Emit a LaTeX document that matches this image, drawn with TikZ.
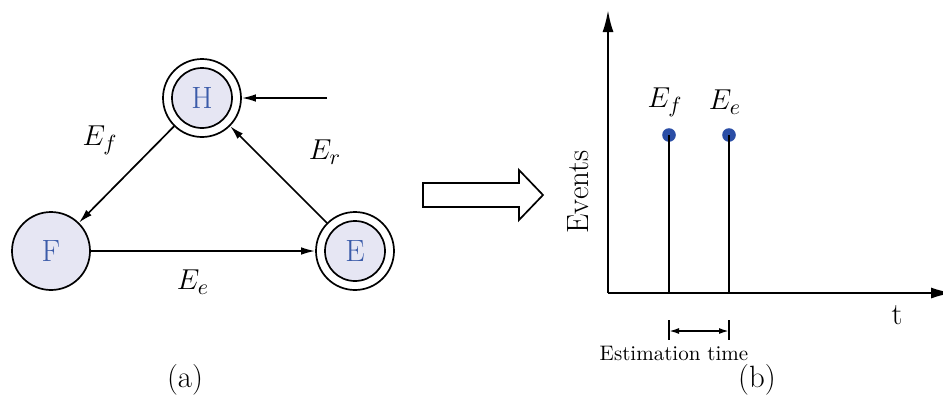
\documentclass[tikz,border=0pt]{standalone}
\usepackage{xcolor}
\usetikzlibrary{arrows.meta}
\definecolor{sfill}{HTML}{E6E6F3}
\definecolor{sblue}{HTML}{3B5BA9}
\definecolor{dblue}{HTML}{2B4EA6}

\begin{document}
\begin{tikzpicture}[x=0.5pt, y=-0.5pt, font=\fontsize{15.4}{18}\selectfont,
  state/.style={circle, draw, line width=0.85pt, minimum size=39pt, inner sep=0pt, fill=sfill, text=sblue},
  accstate/.style={state, fill=white, path picture={\draw[line width=0.85pt, fill=sfill] (path picture bounding box.center) circle[radius=15pt];}},
  edge/.style={-{Latex[length=7pt,width=3.8pt]}, line width=0.85pt},
  axis/.style={-{Latex[length=11pt,width=5.5pt]}, line width=1.1pt},
  dot/.style={circle, fill=dblue, minimum size=6.8pt, inner sep=0pt}]
\useasboundingbox (0,0) rectangle (943,397);
% (a) automaton
\node[accstate] (H) at (202,98) {H};
\node[state] (F) at (51,251) {F};
\node[accstate] (E) at (355,251) {E};
\coordinate (in) at (327,98);
\draw[edge] (in) -- (H);
\draw[edge] (H) -- (F);
\draw[edge] (F) -- (E);
\draw[edge] (E) -- (H);
\node (ef) at (100,140) {$E_f$};
\node (er) at (325,152) {$E_r$};
\node (ee) at (193,282) {$E_e$};
\node (capa) at (185,380) {(a)};
% hollow arrow
\draw[line width=0.85pt] (423,183) -- (519,183) -- (519,170) -- (543,195)
  -- (519,220) -- (519,207) -- (423,207) -- cycle;
% (b) events over time
\coordinate (O) at (608,293);
\coordinate (ytop) at (608,10);
\coordinate (xend) at (953,293);
\draw[axis] (O) -- (ytop);
\draw[axis] (O) -- (xend);
\node[dot] (df) at (669,135) {};
\node[dot] (de) at (729,135) {};
\draw[line width=0.85pt] (df.center) -- (df.center |- O);
\draw[line width=0.85pt] (de.center) -- (de.center |- O);
\node (lf) at (665,102) {$E_f$};
\node (le) at (725,102) {$E_e$};
\node[rotate=90] (ev) at (578,192) {Events};
\node (t) at (897,315) {t};
\coordinate (b1) at (669,320);
\coordinate (b2) at (729,320);
\draw[line width=0.85pt] (b1) -- ++(0,20);
\draw[line width=0.85pt] (b2) -- ++(0,20);
\draw[{Latex[length=5pt,width=3pt]}-{Latex[length=5pt,width=3pt]}, line width=0.85pt]
  ([yshift=-5.5pt]b1) -- ([yshift=-5.5pt]b2);
\node[font=\fontsize{10.5}{12}\selectfont] (est) at (674,353) {Estimation time};
\node (capb) at (757,380) {(b)};
\end{tikzpicture}
\end{document}
